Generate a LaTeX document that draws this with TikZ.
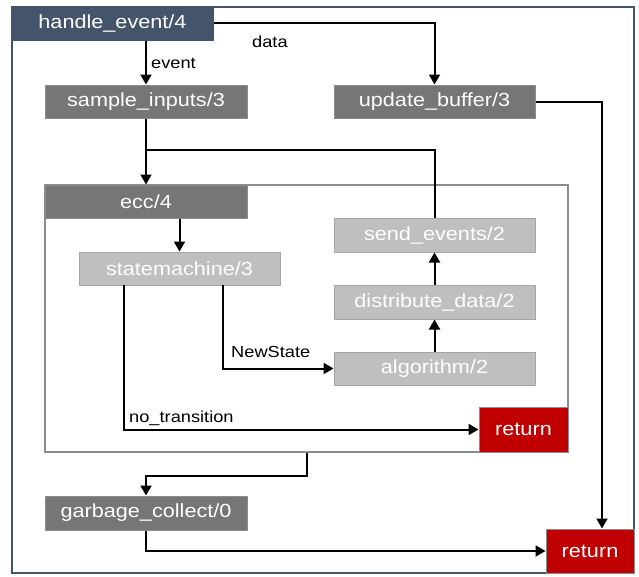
\documentclass[tikz,border=0pt]{standalone}
\usepackage{fontspec}
\setmainfont[FakeStretch=1.14]{Liberation Sans}
\usetikzlibrary{arrows.meta}
\definecolor{slate}{HTML}{44546A}
\definecolor{midgray}{HTML}{767676}
\definecolor{lightgraybox}{HTML}{BFBFBF}
\definecolor{darkred}{HTML}{C00000}
\definecolor{edgegray}{HTML}{8C8C8C}
\definecolor{lightedge}{HTML}{A6A6A6}
\begin{document}
\begin{tikzpicture}[x=1pt,y=-1pt,
  box/.style={rectangle, line width=1pt, minimum height=33pt, minimum width=201pt,
    inner sep=0pt, text=white, font=\fontsize{19}{22}\selectfont},
  darkbox/.style={box, fill=midgray, draw=edgegray},
  lightbox/.style={box, fill=lightgraybox, draw=lightedge},
  topbox/.style={box, fill=slate, draw=slate},
  retbox/.style={box, fill=darkred, draw=edgegray, minimum width=89pt, minimum height=45pt},
  container/.style={rectangle, draw=edgegray, line width=1.5pt, inner sep=0pt},
  conn/.style={draw=black, line width=2pt, -{Triangle[width=11pt,length=10pt]}},
  plain/.style={draw=black, line width=2pt},
  lbl/.style={anchor=west, inner sep=0pt, text=black, font=\fontsize{16}{19}\selectfont}
]
\useasboundingbox (0,0) rectangle (639,576);
% outer frame
\node[rectangle, draw=slate, line width=2pt, minimum width=622pt, minimum height=566pt, inner sep=0pt] (frame) at (323,290) {};
% ecc container
\node[container, minimum width=523pt, minimum height=267pt] (eccbox) at (306.5,318.5) {};

% nodes
\node[topbox] (he) at (112.5,23.5) {handle\_event/4};
\node[darkbox, minimum width=202pt] (si) at (146,101.5) {sample\_inputs/3};
\node[darkbox] (ub) at (434.5,101.5) {update\_buffer/3};
\node[darkbox, minimum width=202pt] (ecch) at (146,201.5) {ecc/4};
\node[lightbox] (sm) at (179.5,268.5) {statemachine/3};
\node[lightbox, minimum height=34pt] (se) at (434.5,235) {send\_events/2};
\node[lightbox, minimum height=34pt] (dd) at (434.5,302) {distribute\_data/2};
\node[lightbox] (alg) at (434.5,368.5) {algorithm/2};
\node[retbox] (ret1) at (523.5,429.5) {return};
\node[darkbox, minimum width=202pt, minimum height=34pt] (gc) at (146,513) {garbage\_collect/0};
\node[retbox, minimum width=88pt, minimum height=44pt] (ret2) at (590,551) {return};

\coordinate (j) at (146,150);
\coordinate (smL) at (124,285);
\coordinate (smR) at (223,285);
\coordinate (ubR) at (602,101.5);

% connectors
\draw[conn] (he.south -| si.north) -- (si.north);
\draw[conn] (he.east |- 0,23) -| (ub.north);
\draw[conn] (si.south) -- (ecch.north);
\draw[plain] (se.north) |- (j);
\draw[conn] (ecch.south -| sm.north) -- (sm.north);
\draw[conn] (smL) |- (ret1.west);
\draw[conn] (smR) |- (alg.west);
\draw[conn] (alg.north) -- (dd.south);
\draw[conn] (dd.north) -- (se.south);
\draw[conn] (eccbox.south) -- ++(0,23) -| (gc.north);
\draw[conn] (gc.south) |- (ret2.west);
\draw[conn] (ub.east) -| (ret2.north -| ubR);

% labels
\node[lbl] (levent) at (151,63) {event};
\node[lbl] (ldata) at (252,42) {data};
\node[lbl] (lnew) at (231,352) {NewState};
\node[lbl] (lnot) at (129,418) {no\_transition};
\end{tikzpicture}
\end{document}
